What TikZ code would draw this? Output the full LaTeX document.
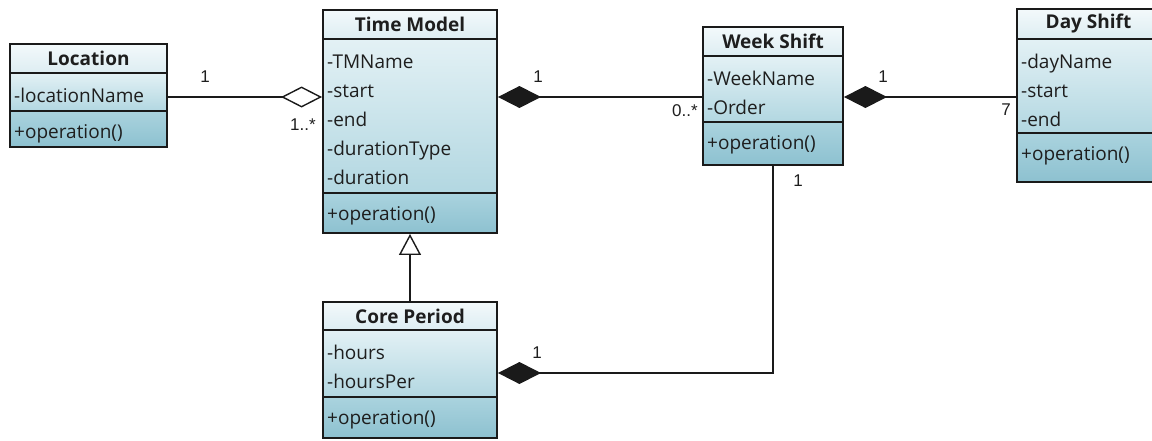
\documentclass[tikz,border=0pt]{standalone}
\usepackage{fontspec}
\setmainfont{Open Sans}
\newfontfamily\multfont{Liberation Sans}
\usetikzlibrary{arrows.meta,fit}

\definecolor{edge}{HTML}{1A1A1A}
\definecolor{hdtop}{HTML}{F3F9FB}
\definecolor{hdbot}{HTML}{DDEDF2}
\definecolor{attop}{HTML}{E3F1F5}
\definecolor{atbot}{HTML}{B2D7E1}
\definecolor{optop}{HTML}{AAD3DE}
\definecolor{opbot}{HTML}{8DC1D0}
\definecolor{txt}{HTML}{1E1E1E}

\tikzset{
  frame/.style={draw=edge, line width=1.9pt, inner sep=0pt},
  divider/.style={draw=edge, line width=1.6pt},
  title/.style={font=\fontsize{19}{22}\selectfont\bfseries, text=txt, inner sep=0pt},
  member/.style={font=\fontsize{19}{22}\selectfont, text=txt, inner sep=0pt, anchor=base west},
  mult/.style={font=\multfont\fontsize{17}{19}\selectfont, text=txt, inner sep=0pt},
  link/.style={draw=edge, line width=1.4pt},
  agg/.style={link, {Diamond[open, length=41pt, width=21pt, line width=1.4pt, fill=white]}-},
  comp/.style={link, {Diamond[length=43pt, width=22pt]}-},
  gen/.style={link, -{Triangle[open, length=21pt, width=22pt, line width=1.4pt, fill=white]}},
}

% #1 name, #2 left, #3 top, #4 right, #5 header bottom, #6 attributes bottom,
% #7 bottom, #8 class name, #9 attributes
\newcommand\umlclass[9]{%
  \shade[top color=hdtop, bottom color=hdbot] (#2,#3) rectangle (#4,#5);
  \shade[top color=attop, bottom color=atbot] (#2,#5) rectangle (#4,#6);
  \shade[top color=optop, bottom color=opbot] (#2,#6) rectangle (#4,#7);
  \draw[divider] (#2,#5) -- (#4,#5) (#2,#6) -- (#4,#6);
  \node[frame, fit={(#2,#3) (#4,#7)}] (#1) {};
  \node[title] at ({(#2+#4)/2},{(#3+#5)/2}) {#8};
  \foreach \m [count=\i] in {#9}
    \node[member] at (#2+4,{#5+29+(\i-1)*29}) {\m};
  \node[member] at (#2+4,#6+27) {+operation()};
}

\begin{document}
\begin{tikzpicture}[x=1pt, y=-1pt]
\useasboundingbox (0,0) rectangle (1152,440);
\clip (0,0) rectangle (1152,440);

\umlclass{loc}{10}{44}{167}{73}{111}{147}{Location}{-locationName}
\umlclass{tm}{323}{10}{497}{39}{193}{233}{Time Model}{-TMName,-start,-end,-durationType,-duration}
\umlclass{ws}{703}{27}{843}{56}{122}{165}{Week Shift}{-WeekName,-Order}
\umlclass{ds}{1017}{9}{1160}{39}{133}{182}{Day Shift}{-dayName,-start,-end}
\umlclass{cp}{323}{302}{497}{330}{397}{438}{Core Period}{-hours,-hoursPer}

% associations
\coordinate (row) at (0,97);
\coordinate (low) at (0,373);
\draw[agg] (tm.west |- row) -- (loc.east |- row);
\draw[comp] (tm.east |- row) -- (ws.west |- row);
\draw[comp] (ws.east |- row) -- (ds.west |- row);
\draw[gen] (cp.north) -- (tm.south);
\draw[comp] (cp.east |- low) -| (ws.south);

% multiplicities
\node[mult] (m1) at (205,77) {1};
\node[mult] (m2) at (303,125) {1..*};
\node[mult] (m3) at (538,77) {1};
\node[mult] (m4) at (685,111) {0..*};
\node[mult] (m5) at (883,77) {1};
\node[mult] (m6) at (1006,110) {7};
\node[mult] (m7) at (537,353) {1};
\node[mult] (m8) at (798,181) {1};
\end{tikzpicture}
\end{document}
